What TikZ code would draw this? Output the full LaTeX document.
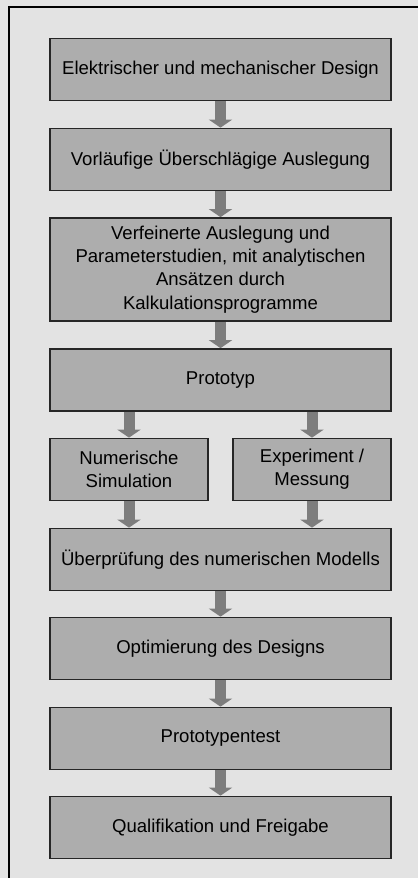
\documentclass[tikz,border=0pt]{standalone}
\usepackage{fontspec}
\setmainfont{Liberation Sans}
\usetikzlibrary{arrows.meta}
\definecolor{hintergrund}{HTML}{E3E3E3}
\definecolor{kasten}{HTML}{ADADAD}
\definecolor{pfeilgrau}{HTML}{7D7D7D}
\begin{document}
\begin{tikzpicture}[x=0.025cm, y=-0.025cm,
  every node/.style={align=center, font=\fontsize{13.2}{16.6}\selectfont},
  stufe/.style={draw=black!85, line width=1.2pt, fill=kasten, minimum width=8.525cm, minimum height=1.55cm, inner sep=0pt},
  halb/.style={stufe, minimum width=3.95cm},
  pfeil/.style={draw=pfeilgrau, line width=0.275cm, -{Triangle[length=0.2cm, width=0.575cm]}}]
\useasboundingbox (0,0) rectangle (418,878);
\fill[hintergrund] (0,0) rectangle (418,878);
\draw[line width=1.4pt] (9,878) -- (9,7) -- (418,7);

\node[stufe] at (220.5,69.5) (design) {Elektrischer und mechanischer Design};
\node[stufe] at (220.5,159.5) (vorl) {Vorläufige Überschlägige Auslegung};
\node[stufe, minimum height=2.575cm] at (220.5,269.5) (verf) {Verfeinerte Auslegung und\\Parameterstudien, mit analytischen\\Ansätzen durch\\Kalkulationsprogramme};
\node[stufe] at (220.5,380) (proto) {Prototyp};
\node[halb] at (129,469.5) (numsim) {Numerische\\Simulation};
\node[halb] at (312,469.5) (exp) {Experiment /\\Messung};
\node[stufe] at (220.5,559.5) (pruef) {Überprüfung des numerischen Modells};
\node[stufe] at (220.5,648.5) (opt) {Optimierung des Designs};
\node[stufe] at (220.5,738.5) (test) {Prototypentest};
\node[stufe] at (220.5,827.5) (freigabe) {Qualifikation und Freigabe};

\draw[pfeil] (design) -- (vorl);
\draw[pfeil] (vorl) -- (verf);
\draw[pfeil] (verf) -- (proto);
\draw[pfeil] (numsim.north |- proto.south) -- (numsim.north);
\draw[pfeil] (exp.north |- proto.south) -- (exp.north);
\draw[pfeil] (numsim.south) -- (numsim.south |- pruef.north);
\draw[pfeil] (exp.south) -- (exp.south |- pruef.north);
\draw[pfeil] (pruef) -- (opt);
\draw[pfeil] (opt) -- (test);
\draw[pfeil] (test) -- (freigabe);
\end{tikzpicture}
\end{document}
